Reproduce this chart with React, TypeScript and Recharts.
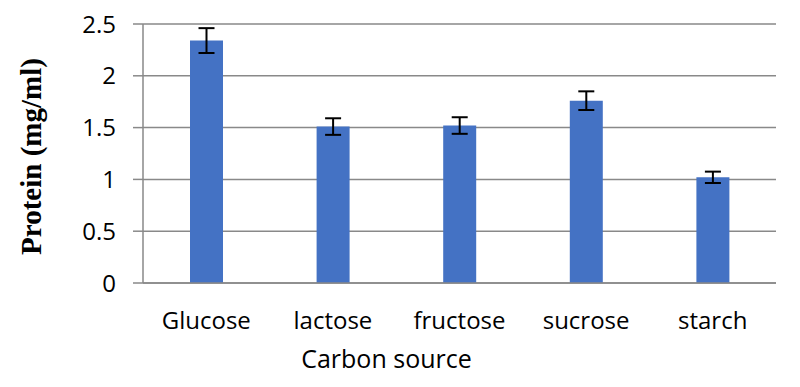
import { Bar, BarChart, CartesianGrid, ErrorBar, Label, XAxis, YAxis } from "recharts"

const categories = ["Glucose", "lactose", "fructose", "sucrose", "starch"]
const protein = [2.34, 1.51, 1.52, 1.76, 1.02]
const errors = [0.12, 0.08, 0.08, 0.09, 0.055]
const yTicks = [0, 0.5, 1, 1.5, 2, 2.5]

const data = categories.map((name, i) => ({
  name,
  protein: protein[i],
  err: errors[i],
}))

const grey = "#898989"
const tickFont = { fontFamily: "'Open Sans'", fontSize: 24, fill: "#000" }

export default function App() {
  return (
    <div style={{ position: "absolute", left: 0, top: 0 }}>
      <BarChart
        width={800}
        height={387}
        data={data}
        margin={{ left: 0, top: 24, right: 24, bottom: 0 }}
        barSize={33}
      >
        <CartesianGrid vertical={false} stroke={grey} strokeWidth={1.5} />
        <XAxis
          dataKey="name"
          height={104}
          axisLine={{ stroke: grey, strokeWidth: 1.5 }}
          tickLine={false}
          tickSize={0}
          tickMargin={29}
          tick={tickFont}
        >
          <Label
            value="Carbon source"
            position="insideBottom"
            offset={19}
            dx={-73}
            style={{ fontFamily: "'Open Sans'", fontSize: 25, fill: "#000" }}
          />
        </XAxis>
        <YAxis
          width={143}
          domain={[0, 2.5]}
          ticks={yTicks}
          axisLine={{ stroke: grey, strokeWidth: 1.5 }}
          tickLine={{ stroke: grey, strokeWidth: 1.5 }}
          tickSize={10}
          tickMargin={17}
          tick={tickFont}
        >
          <Label
            value="Protein (mg/ml)"
            angle={-90}
            position="center"
            dx={-41}
            dy={3}
            style={{
              fontFamily: "'Liberation Serif'",
              fontWeight: "bold",
              fontSize: 29,
              fill: "#000",
            }}
          />
        </YAxis>
        <Bar dataKey="protein" fill="#4472C4" isAnimationActive={false}>
          <ErrorBar dataKey="err" width={8} stroke="#000" strokeWidth={2} />
        </Bar>
      </BarChart>
    </div>
  )
}
